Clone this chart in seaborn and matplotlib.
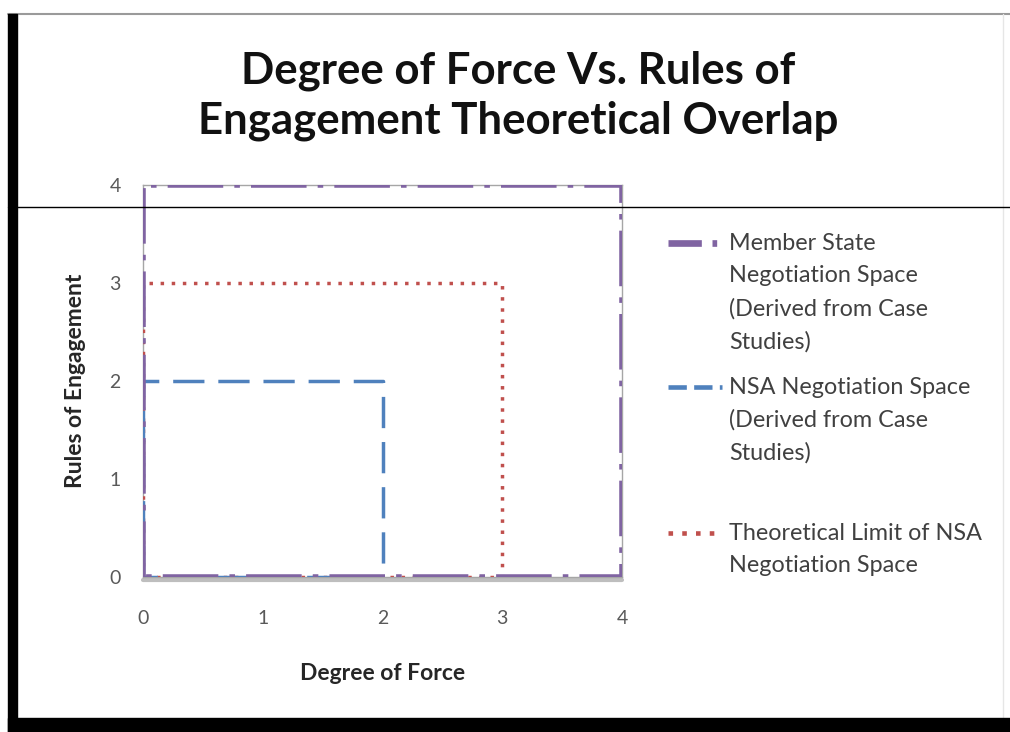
import matplotlib
matplotlib.use("Agg")
import matplotlib.pyplot as plt
from matplotlib.lines import Line2D
from matplotlib.patches import Rectangle
import seaborn as sns
import pandas as pd

# ---- data ----
member_x = [0, 0, 4, 4, 0]
member_y = [0, 4, 4, 0, 0]
nsa_x = [0, 0, 2, 2, 0]
nsa_y = [0, 2, 2, 0, 0]
limit_x = [0, 0, 3, 3, 0]
limit_y = [0, 3, 3, 0, 0]
labels = ["Member State\nNegotiation Space\n(Derived from Case\nStudies)",
          "NSA Negotiation Space\n(Derived from Case\nStudies)",
          "Theoretical Limit of NSA\nNegotiation Space"]
ticks = [0, 1, 2, 3, 4]
title = "Degree of Force Vs. Rules of\nEngagement Theoretical Overlap"
xlabel = "Degree of Force"
ylabel = "Rules of Engagement"

sns.set_theme(style="white")
plt.rcParams['font.family'] = ['Lato', 'DejaVu Sans']

W, H = 1010, 732
def fx(p):
    return p / W
def fy(p):
    return 1 - p / H

fig = plt.figure(figsize=(10.10, 7.32), dpi=100)
ax = fig.add_axes([fx(143), fy(577), fx(622) - fx(143), fy(185) - fy(577)])

colors = ["#8064A2", "#4F81BD", "#C0504D"]
styles = [(0, (10, 2, 1, 2)), (0, (9, 4)), (0, (1, 2.2))]
leg_styles = [(0, (5, 1.6, 0.7, 1.6)), (0, (4, 1.6)), (0, (1, 2.0))]
widths = [4.0, 2.5, 2.5]
series = [(member_x, member_y), (nsa_x, nsa_y), (limit_x, limit_y)]
for i in [2, 1, 0]:
    x, y = series[i]
    df = pd.DataFrame({"x": x, "y": y})
    sns.lineplot(data=df, x="x", y="y", sort=False, estimator=None, ax=ax,
                 color=colors[i], linewidth=widths[i], linestyle=styles[i],
                 zorder=3 + (2 - i), legend=False)

ax.set_xlim(0, 4)
ax.set_ylim(0, 4)
ax.set_xticks(ticks)
ax.set_yticks(ticks)
ax.tick_params(axis="both", length=0, labelsize=14, labelcolor="#595959")
ax.tick_params(axis="x", pad=24)
ax.tick_params(axis="y", pad=16)
for s in ax.spines.values():
    s.set_color("#A6A6A6")
    s.set_linewidth(1.0)
ax.set_xlabel(xlabel, fontsize=16.5, fontweight="bold", color="#262626", labelpad=26)
ax.set_ylabel(ylabel, fontsize=16.5, fontweight="bold", color="#262626", labelpad=17)

# shadow under the plot area bottom
ax.add_artist(Line2D([0.0, 1.0], [-0.007, -0.007], transform=ax.transAxes,
                     color="#8a8a8a", linewidth=3, alpha=0.55, clip_on=False, zorder=1))

fig.text(0.513, fy(95.5), title, ha="center", va="center", fontsize=31.5,
         fontweight="bold", color="#111111", linespacing=1.3)

# legend (handles aligned with first text line, as in the reference)
first_line_y = [243, 387, 533]
for i in range(3):
    yy = fy(first_line_y[i])
    fig.add_artist(Line2D([fx(668), fx(722)], [yy, yy], transform=fig.transFigure,
                          color=colors[i], linewidth=widths[i] + 0.8,
                          linestyle=leg_styles[i]))
    lines = labels[i].split("\n")
    for k, line in enumerate(lines):
        fig.text(fx(729), fy(first_line_y[i] + 33 * k), line, ha="left",
                 va="center", fontsize=16.8, color="#404040")

# frame decorations
fig.add_artist(Rectangle((fx(8), 0), fx(9), 1 - 14 / H, transform=fig.transFigure,
                         color="black", zorder=10))
fig.add_artist(Rectangle((fx(8), 0), 1 - fx(8), 14 / H, transform=fig.transFigure,
                         color="black", zorder=10))
fig.add_artist(Line2D([fx(8), 1], [fy(14), fy(14)], transform=fig.transFigure,
                      color="#9a9a9a", linewidth=1.5))
fig.add_artist(Line2D([fx(1003), fx(1003)], [fy(14), fy(718)], transform=fig.transFigure,
                      color="#e6e6e6", linewidth=1))
fig.add_artist(Line2D([fx(8), 1], [fy(207), fy(207)], transform=fig.transFigure,
                      color="black", linewidth=1.0, zorder=10))

fig.savefig("out.png", dpi=100)
